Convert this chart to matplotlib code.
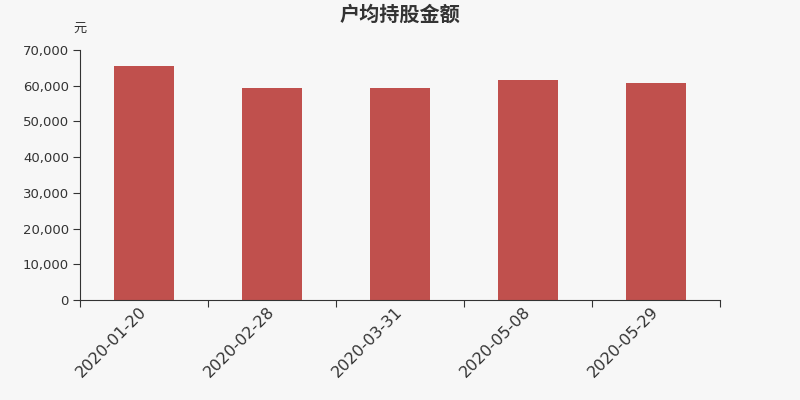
import matplotlib
matplotlib.use("Agg")
import matplotlib.pyplot as plt
import matplotlib.transforms as mtransforms
from matplotlib.ticker import FuncFormatter

plt.rcParams['font.family'] = ['DejaVu Sans', 'Noto Sans CJK SC']

categories = ["2020-01-20", "2020-02-28", "2020-03-31", "2020-05-08", "2020-05-29"]
values = [65500, 59350, 59350, 61600, 60750]
title = "户均持股金额"
unit = "元"

bg = "#f7f7f7"
fig = plt.figure(figsize=(8, 4), dpi=100, facecolor=bg)
ax = fig.add_axes([0.1, 0.25, 0.8, 0.625], facecolor=bg)

x = list(range(len(categories)))
ax.bar(x, values, width=0.47, color="#c0504d", zorder=2)
ax.set_xlim(-0.5, len(categories) - 0.5)
ax.set_ylim(0, 70000)
ax.set_yticks(range(0, 70001, 10000))
ax.yaxis.set_major_formatter(FuncFormatter(lambda v, p: f"{int(v):,}"))

ax.set_xticks([i - 0.5 for i in range(len(categories) + 1)])
ax.set_xticklabels([])
ax.set_xticks(x, minor=True)
ax.set_xticklabels(categories, minor=True, rotation=45, ha="right",
                   rotation_mode="anchor", fontsize=11.5, color="#333333")
ax.tick_params(axis="x", which="minor", length=0, pad=3)
ax.tick_params(axis="x", which="major", length=5, color="#333333")
ax.tick_params(axis="y", length=5, color="#333333", labelsize=9.5, labelcolor="#333333", pad=3)
offset = mtransforms.ScaledTranslation(-4 / 72, 0, fig.dpi_scale_trans)
for lbl in ax.get_xticklabels(minor=True):
    lbl.set_transform(lbl.get_transform() + offset)

for s in ["top", "right"]:
    ax.spines[s].set_visible(False)
for s in ["left", "bottom"]:
    ax.spines[s].set_color("#333333")

fig.text(0.5, 0.965, title, ha="center", va="center", fontsize=14.5, fontweight="bold",
         color="#333333", family=['Noto Sans CJK SC', 'DejaVu Sans'])
fig.text(0.1, 0.93, unit, ha="center", va="center", fontsize=9.5, color="#333333",
         family=['Noto Sans CJK SC', 'DejaVu Sans'])

fig.savefig("out.png", dpi=100, facecolor=bg)
